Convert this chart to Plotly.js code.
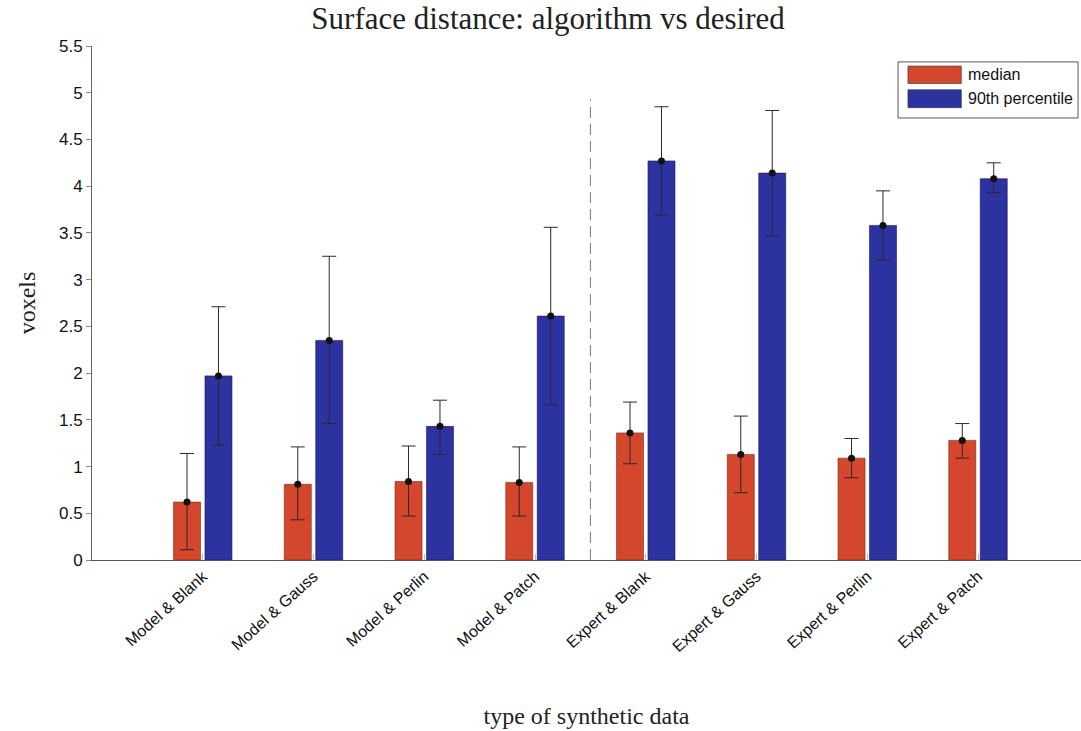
<!DOCTYPE html>
<html>
<head>
<meta charset="utf-8">
<script src="https://cdn.plot.ly/plotly-3.0.1.min.js"></script>
<style>html,body{margin:0;padding:0;background:#fff;}#chart{width:1081px;height:731px;}</style>
</head>
<body>
<div id="chart"></div>
<script>
const categories = ["Model & Blank","Model & Gauss","Model & Perlin","Model & Patch","Expert & Blank","Expert & Gauss","Expert & Perlin","Expert & Patch"];
const medianValues = [0.62, 0.81, 0.84, 0.83, 1.36, 1.13, 1.09, 1.28];
const medianErrPlus = [0.52, 0.40, 0.38, 0.38, 0.33, 0.41, 0.21, 0.18];
const medianErrMinus = [0.51, 0.38, 0.37, 0.36, 0.33, 0.41, 0.21, 0.19];
const p90Values = [1.97, 2.35, 1.43, 2.61, 4.27, 4.14, 3.58, 4.08];
const p90ErrPlus = [0.74, 0.90, 0.28, 0.95, 0.58, 0.67, 0.37, 0.17];
const p90ErrMinus = [0.74, 0.89, 0.30, 0.95, 0.58, 0.67, 0.37, 0.15];
const seriesNames = ["median", "90th percentile"];
const dividerAt = 4.5;
const dividerTop = 4.93;

const idx = categories.map((c, i) => i + 1);
const off = 0.142, bw = 0.244;
const xm = idx.map(v => v - off);
const xp = idx.map(v => v + off);

const red = "#d4472c", blue = "#2c32a0";
function errCfg(plus, minus) {
  return {type: "data", symmetric: false, array: plus, arrayminus: minus,
          color: "#2a2a2a", thickness: 1, width: 7};
}
const traces = [
  {type: "bar", name: seriesNames[0], x: xm, y: medianValues, width: bw,
   marker: {color: red, line: {color: "#7a2a1a", width: 0.6}}},
  {type: "bar", name: seriesNames[1], x: xp, y: p90Values, width: bw,
   marker: {color: blue, line: {color: "#1a1a5a", width: 0.6}}},
  {type: "scatter", mode: "markers", x: xm, y: medianValues,
   marker: {color: "#111", size: 7}, error_y: errCfg(medianErrPlus, medianErrMinus), hoverinfo: "skip"},
  {type: "scatter", mode: "markers", x: xp, y: p90Values,
   marker: {color: "#111", size: 7}, error_y: errCfg(p90ErrPlus, p90ErrMinus), hoverinfo: "skip"}
];

// custom legend (paper coords) to reproduce the large MATLAB swatches
const L = {x0: 0.815, x1: 0.997, y0: 0.860, y1: 0.969};
const sw = [{x0: 0.825, x1: 0.879, y0: 0.927, y1: 0.961, c: red},
            {x0: 0.825, x1: 0.879, y0: 0.880, y1: 0.915, c: blue}];
const shapes = [
  {type: "line", xref: "x", yref: "y", x0: dividerAt, x1: dividerAt, y0: 0, y1: dividerTop,
   line: {color: "#777", width: 1, dash: "11px,6px"}},
  {type: "rect", xref: "paper", yref: "paper", x0: L.x0, x1: L.x1, y0: L.y0, y1: L.y1,
   line: {color: "#555", width: 1}, fillcolor: "#fff"},
  ...sw.map(s => ({type: "rect", xref: "paper", yref: "paper", x0: s.x0, x1: s.x1, y0: s.y0, y1: s.y1,
                   line: {color: "#333", width: 0.6}, fillcolor: s.c}))
];
const annotations = seriesNames.map((n, i) => ({
  xref: "paper", yref: "paper", x: 0.884, y: (sw[i].y0 + sw[i].y1) / 2, xanchor: "left", yanchor: "middle",
  text: n, showarrow: false, font: {family: "Liberation Sans, Arial, sans-serif", size: 16, color: "#111"}
}));

const layout = {
  width: 1081, height: 731,
  margin: {l: 92, r: 0, t: 46, b: 171},
  paper_bgcolor: "#fff", plot_bgcolor: "#fff",
  showlegend: false,
  font: {family: "Liberation Sans, Arial, sans-serif", size: 14, color: "#222"},
  title: {text: "Surface distance: algorithm vs desired", x: 0.507, xanchor: "center", y: 0.975, yanchor: "middle",
          font: {family: "Liberation Serif, Times New Roman, serif", size: 31, color: "#222"}},
  xaxis: {range: [0, 8.93], tickvals: idx, ticktext: categories, tickangle: -42,
          showgrid: false, zeroline: false, showline: true, linecolor: "#555", linewidth: 1,
          ticks: "inside", ticklen: 6, tickcolor: "#bbb",
          tickfont: {family: "Liberation Sans, Arial, sans-serif", size: 16, color: "#111"},
          title: {text: "type of synthetic data", standoff: 52,
                  font: {family: "Liberation Serif, Times New Roman, serif", size: 24, color: "#222"}}},
  yaxis: {range: [0, 5.5], dtick: 0.5, showgrid: false, zeroline: false,
          showline: true, linecolor: "#666", linewidth: 1, ticks: "outside", ticklen: 5, tickcolor: "#888",
          tickfont: {family: "Liberation Sans, Arial, sans-serif", size: 17, color: "#111"},
          title: {text: "voxels", standoff: 16,
                  font: {family: "Liberation Serif, Times New Roman, serif", size: 24, color: "#222"}}},
  shapes: shapes,
  annotations: annotations
};
Plotly.newPlot("chart", traces, layout, {displayModeBar: false, staticPlot: true});
</script>
</body>
</html>
